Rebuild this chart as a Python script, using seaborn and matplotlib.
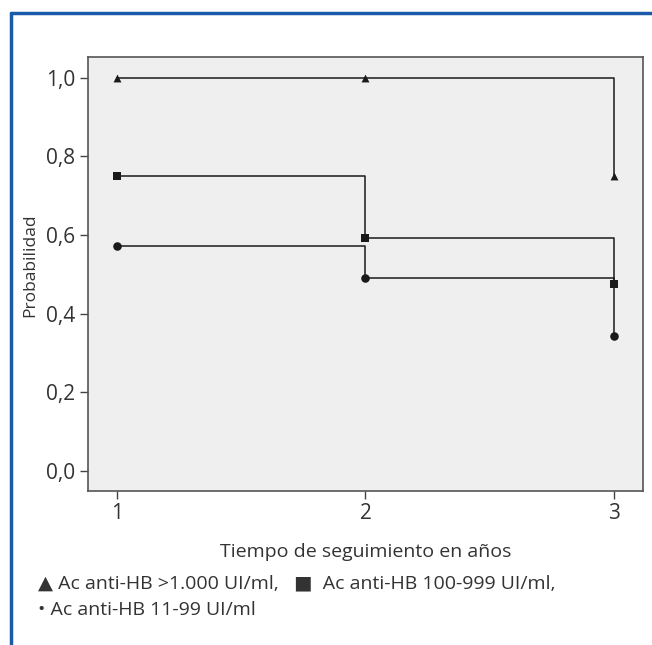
"""Probabilidad por tiempo de seguimiento segun nivel de Ac anti-HB."""

import pandas as pd
import matplotlib
matplotlib.use("Agg")
import matplotlib.pyplot as plt
from matplotlib.lines import Line2D
import seaborn as sns

# Datos
tiempo = [1, 2, 3]
grupos = ["Ac anti-HB >1.000 UI/ml", "Ac anti-HB 100-999 UI/ml", "Ac anti-HB 11-99 UI/ml"]
prob_alto = [1.0, 1.0, 0.75]
prob_medio = [0.75, 0.593, 0.476]
prob_bajo = [0.573, 0.491, 0.343]
x_ticks = [1, 2, 3]
y_ticks = [0.0, 0.2, 0.4, 0.6, 0.8, 1.0]

df = pd.DataFrame({
    "tiempo": tiempo * 3,
    "prob": prob_alto + prob_medio + prob_bajo,
    "grupo": [grupos[0]] * 3 + [grupos[1]] * 3 + [grupos[2]] * 3,
})

sns.set_theme(style="ticks")
plt.rcParams["font.family"] = ["Open Sans", "DejaVu Sans"]
text_color = "#333333"

fig = plt.figure(figsize=(6.52, 6.45), dpi=100)
ax = fig.add_axes([0.135, 0.2388, 0.851, 0.6729])
ax.set_facecolor("#efefef")

line_col = "#1a1a1a"
palette = {g: line_col for g in grupos}
markers = {grupos[0]: "^", grupos[1]: "s", grupos[2]: "o"}

# Curvas escalonadas
sns.lineplot(data=df, x="tiempo", y="prob", hue="grupo", units="grupo",
             estimator=None, palette=palette, drawstyle="steps-post",
             linewidth=1.1, legend=False, ax=ax)
# Marcadores
for g in grupos:
    sub = df[df["grupo"] == g]
    sns.scatterplot(data=sub, x="tiempo", y="prob", color=line_col,
                    marker=markers[g], s=38 if g != grupos[0] else 32,
                    edgecolor=line_col, linewidth=0, legend=False, ax=ax,
                    zorder=3)

ax.set_xlim(0.883, 3.117)
ax.set_ylim(-0.051, 1.053)
ax.set_xticks(x_ticks)
ax.set_xticklabels([str(t) for t in x_ticks])
ax.set_yticks(y_ticks)
ax.set_yticklabels([f"{v:.1f}".replace(".", ",") for v in y_ticks])
ax.tick_params(axis="both", direction="out", length=6, width=1,
               color="#444444", labelsize=15, labelcolor=text_color, pad=3)
for sp in ax.spines.values():
    sp.set_color("#555555")
    sp.set_linewidth(1.2)

ax.set_xlabel("Tiempo de seguimiento en años", fontsize=14, color=text_color)
ax.xaxis.set_label_coords(0.5, -0.12)
ax.set_ylabel("Probabilidad", fontsize=12.5, color=text_color)
ax.yaxis.set_label_coords(-0.09, 0.52)

# Leyenda como texto
fig.text(0.059, 0.096, "▲ Ac anti-HB >1.000 UI/ml,   ■  Ac anti-HB 100-999 UI/ml,",
         fontsize=14, color=text_color, va="center", ha="left")
fig.text(0.059, 0.054, "• Ac anti-HB 11-99 UI/ml",
         fontsize=14, color=text_color, va="center", ha="left")

# Marco azul superior e izquierdo
blue = "#1a5aa8"
fig.add_artist(Line2D([0.017, 1.0], [0.98, 0.98], color=blue, linewidth=2.5,
                      transform=fig.transFigure))
fig.add_artist(Line2D([0.017, 0.017], [0.0, 0.98], color=blue, linewidth=2.5,
                      transform=fig.transFigure))

fig.savefig("out.png", dpi=100, facecolor="white")
